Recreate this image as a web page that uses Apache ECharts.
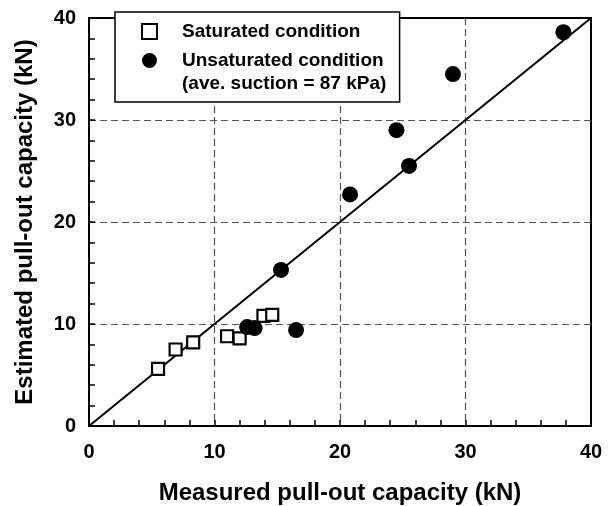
<!DOCTYPE html>
<html>
<head>
<meta charset="utf-8">
<script src="https://cdn.jsdelivr.net/npm/echarts@6/dist/echarts.min.js"></script>
<style>
html,body{margin:0;padding:0;background:#fff;}
#chart{width:611px;height:506px;}
</style>
</head>
<body>
<div id="chart"></div>
<script>
// Saturated condition: measured (x) vs estimated (y), kN
var saturatedMeasured  = [5.5, 6.9, 8.3, 11.0, 12.0, 13.9, 14.6];
var saturatedEstimated = [5.6, 7.5, 8.2, 8.8, 8.6, 10.8, 10.9];
// Unsaturated condition (ave. suction = 87 kPa)
var unsaturatedMeasured  = [12.6, 13.2, 16.5, 15.3, 20.8, 24.5, 25.5, 29.0, 37.8];
var unsaturatedEstimated = [9.7, 9.6, 9.4, 15.3, 22.7, 29.0, 25.5, 34.5, 38.6];
// 1:1 line
var lineMeasured  = [0, 40];
var lineEstimated = [0, 40];
var xTickValues = [0, 10, 20, 30, 40];
var yTickValues = [0, 10, 20, 30, 40];

function pairs(xs, ys) { return xs.map(function (x, i) { return [x, ys[i]]; }); }

var FONT = '"Liberation Sans", Arial, Helvetica, sans-serif';
var chart = echarts.init(document.getElementById('chart'));

function axisCommon(name) {
  return {
    type: 'value', min: 0, max: 40, interval: 10,
    name: name, nameLocation: 'middle',
    nameTextStyle: { fontFamily: FONT, fontWeight: 'bold', fontSize: 24, color: '#000' },
    axisLine: { show: true, onZero: false, lineStyle: { color: '#000', width: 2 } },
    axisTick: { show: true, inside: true, length: 6, lineStyle: { color: '#000', width: 1.5 } },
    minorTick: { show: true, splitNumber: 5, length: 6, lineStyle: { color: '#000', width: 1.5 } },
    axisLabel: { fontFamily: FONT, fontWeight: 'bold', fontSize: 20, color: '#000' },
    splitLine: { show: true, showMinLine: false, showMaxLine: false,
      lineStyle: { color: '#555', width: 1.2, type: [7, 4] } }
  };
}

var xAxis = axisCommon('Measured pull-out capacity (kN)');
xAxis.nameGap = 55;
xAxis.axisLabel.margin = 16;
xAxis.axisLabel.formatter = function (v) { return xTickValues.indexOf(v) >= 0 ? String(v) : ''; };
var yAxis = axisCommon('Estimated pull-out capacity (kN)');
yAxis.nameGap = 52;
yAxis.axisLabel.margin = 13;
yAxis.axisLabel.formatter = function (v) { return yTickValues.indexOf(v) >= 0 ? String(v) : ''; };

chart.setOption({
  animation: false,
  backgroundColor: '#fff',
  grid: { left: 89, right: 20, top: 18, bottom: 80, outerBoundsMode: 'none', containLabel: false,
    show: true, borderColor: '#000', borderWidth: 2, backgroundColor: 'transparent' },
  xAxis: xAxis,
  yAxis: yAxis,
  legend: {
    orient: 'vertical', left: 115, top: 12,
    padding: [10, 16, 32, 26],
    itemWidth: 15, itemHeight: 15, itemGap: 10,
    backgroundColor: '#fff', borderColor: '#000', borderWidth: 1.5,
    textStyle: { fontFamily: FONT, fontWeight: 'bold', fontSize: 19, color: '#000', padding: [0, 0, 0, 20] },
    data: [
      { name: 'Saturated condition', icon: 'rect', itemStyle: { color: '#fff', borderColor: '#000', borderWidth: 2 } },
      { name: 'Unsaturated condition', icon: 'circle', itemStyle: { color: '#000', borderWidth: 0 } }
    ]
  },
  graphic: [{
    type: 'text', left: 182, top: 74, z: 100,
    style: { text: '(ave. suction = 87 kPa)', fontFamily: FONT, fontWeight: 'bold', fontSize: 19, fill: '#000' }
  }],
  series: [
    {
      name: '1:1 line', type: 'line', data: pairs(lineMeasured, lineEstimated),
      showSymbol: false, symbol: 'none', silent: true,
      lineStyle: { color: '#000', width: 2 }, z: 1
    },
    {
      name: 'Saturated condition', type: 'scatter', data: pairs(saturatedMeasured, saturatedEstimated),
      symbol: 'rect', symbolSize: 12,
      itemStyle: { color: '#fff', borderColor: '#000', borderWidth: 2.2, opacity: 1 }, z: 3
    },
    {
      name: 'Unsaturated condition', type: 'scatter', data: pairs(unsaturatedMeasured, unsaturatedEstimated),
      symbol: 'circle', symbolSize: 16,
      itemStyle: { color: '#000', opacity: 1 }, z: 4
    }
  ]
});
</script>
</body>
</html>
